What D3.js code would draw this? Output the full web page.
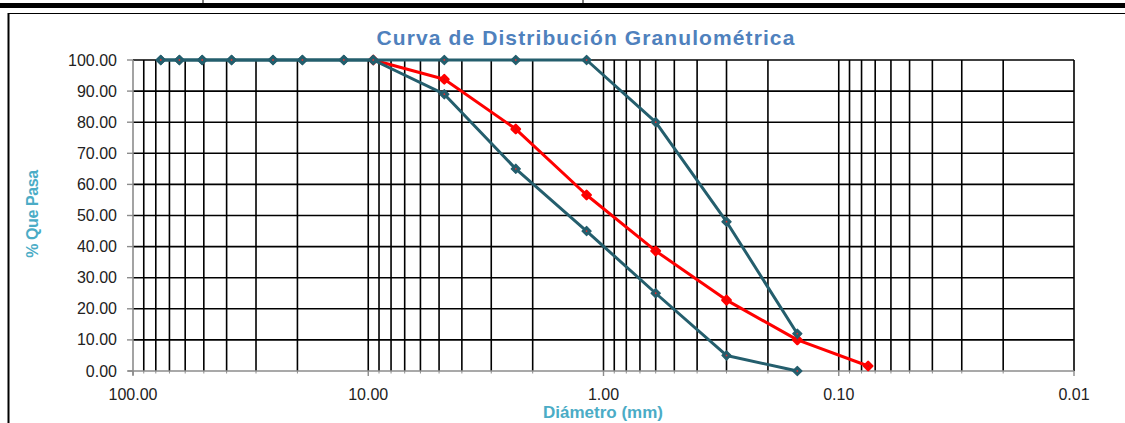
<!DOCTYPE html>
<html><head><meta charset="utf-8">
<script src="https://cdn.jsdelivr.net/npm/d3@7"></script>
<style>body{margin:0;background:#fff}svg{display:block}</style>
</head><body>
<svg id="c" width="1125" height="423"></svg>
<script>
// Data
const sieves = [76.2, 63.5, 50.8, 38.1, 25.4, 19.05, 12.7, 9.525, 4.75, 2.36, 1.18, 0.6, 0.3, 0.15, 0.075];
const upperLimit = [100, 100, 100, 100, 100, 100, 100, 100, 100, 100, 100, 80, 48, 12, null];
const lowerLimit = [100, 100, 100, 100, 100, 100, 100, 100, 89, 65, 45, 25, 5, 0, null];
const sample = [null, null, null, null, null, null, null, 100, 93.8, 77.8, 56.6, 38.6, 22.8, 10, 1.6];
const xTickLabels = [100, 10, 1, 0.1, 0.01];
const yTickLabels = [0, 10, 20, 30, 40, 50, 60, 70, 80, 90, 100];
const title = "Curva de Distribución Granulométrica";
const xTitle = "Diámetro (mm)";
const yTitle = "% Que Pasa";

const svg = d3.select("#c");
const L = 133, R = 1074, T = 60, B = 371;
const x = d3.scaleLog().domain([100, 0.01]).range([L, R]);
const y = d3.scaleLinear().domain([0, 100]).range([B, T]);

// outer frame (spreadsheet borders)
svg.append("rect").attr("x", 0).attr("y", 3).attr("width", 1125).attr("height", 5).attr("fill", "#000");
[203, 583].forEach(px => svg.append("line").attr("x1", px).attr("x2", px).attr("y1", 0).attr("y2", 8).attr("stroke", "#000").attr("stroke-width", 1));
svg.append("line").attr("x1", 8).attr("x2", 1125).attr("y1", 13.5).attr("y2", 13.5).attr("stroke", "#000").attr("stroke-width", 1);
svg.append("line").attr("x1", 8.5).attr("x2", 8.5).attr("y1", 13).attr("y2", 423).attr("stroke", "#000").attr("stroke-width", 2);

// grid
const g = svg.append("g");
const vt = x.ticks().filter(v => v < 99.99);
g.selectAll("line.v").data(vt).join("line").attr("class", "v")
  .attr("x1", d => x(d)).attr("x2", d => x(d)).attr("y1", T).attr("y2", B)
  .attr("stroke", "#000").attr("stroke-width", 1.6);
g.selectAll("line.h").data(yTickLabels.filter(v => v > 0)).join("line").attr("class", "h")
  .attr("x1", L).attr("x2", R).attr("y1", d => y(d)).attr("y2", d => y(d))
  .attr("stroke", "#000").attr("stroke-width", 1.6);

// axes
const ax = svg.append("g");
ax.append("line").attr("x1", L).attr("x2", L).attr("y1", T).attr("y2", B + 4).attr("stroke", "#8c8c8c").attr("stroke-width", 1.6);
ax.append("line").attr("x1", L - 5).attr("x2", R).attr("y1", B).attr("y2", B).attr("stroke", "#8c8c8c").attr("stroke-width", 1.6);
ax.selectAll("line.yt").data(yTickLabels).join("line").attr("class", "yt")
  .attr("x1", L - 6).attr("x2", L).attr("y1", d => y(d)).attr("y2", d => y(d)).attr("stroke", "#8c8c8c").attr("stroke-width", 1.4);
ax.selectAll("line.xt").data(xTickLabels).join("line").attr("class", "xt")
  .attr("x1", d => x(d)).attr("x2", d => x(d)).attr("y1", B).attr("y2", B + 5).attr("stroke", "#8c8c8c").attr("stroke-width", 1.4);
ax.selectAll("line.xm").data(vt.filter(v => !xTickLabels.includes(v))).join("line").attr("class", "xm")
  .attr("x1", d => x(d)).attr("x2", d => x(d)).attr("y1", B).attr("y2", B + 2.5).attr("stroke", "#8c8c8c").attr("stroke-width", 1);

const font = "'Liberation Sans', Arial, sans-serif";
ax.selectAll("text.yl").data(yTickLabels).join("text").attr("class", "yl")
  .attr("x", 117).attr("y", d => y(d) + 5.5).attr("text-anchor", "end")
  .attr("font-family", font).attr("font-size", 16).attr("fill", "#222")
  .text(d => d3.format(".2f")(d));
ax.selectAll("text.xl").data(xTickLabels).join("text").attr("class", "xl")
  .attr("x", d => x(d)).attr("y", 400).attr("text-anchor", "middle")
  .attr("font-family", font).attr("font-size", 16).attr("fill", "#222")
  .text(d => d3.format(".2f")(d));

// titles
svg.append("text").attr("x", 586).attr("y", 45).attr("text-anchor", "middle")
  .attr("font-family", font).attr("font-weight", "bold").attr("font-size", 21).attr("letter-spacing", 1.1)
  .attr("fill", "#4F81BD").text(title);
svg.append("text").attr("x", 603).attr("y", 418).attr("text-anchor", "middle")
  .attr("font-family", font).attr("font-weight", "bold").attr("font-size", 17).attr("letter-spacing", 0)
  .attr("fill", "#4BACC6").text(xTitle);
svg.append("text").attr("transform", "translate(38,214) rotate(-90)").attr("text-anchor", "middle")
  .attr("font-family", font).attr("font-weight", "bold").attr("font-size", 16).attr("letter-spacing", -0.4)
  .attr("fill", "#4BACC6").text(yTitle);

// series
const line = d3.line().defined(d => d[1] != null).x(d => x(d[0])).y(d => y(d[1]));
const teal = "#245E6D";
function series(vals, color, isRed) {
  const pts = sieves.map((s, i) => [s, vals[i]]).filter(d => d[1] != null);
  svg.append("path").datum(pts).attr("d", line).attr("fill", "none")
    .attr("stroke", color).attr("stroke-width", 3).attr("stroke-linejoin", "round");
  const m = svg.append("g");
  const r = isRed ? 4.2 : 4.6;
  m.selectAll("path").data(pts).join("path")
    .attr("transform", d => `translate(${x(d[0])},${y(d[1])})`)
    .attr("d", `M0,${-r}L${r},0L0,${r}L${-r},0Z`)
    .attr("fill", color).attr("stroke", color).attr("stroke-width", isRed ? 2.4 : 1.2).attr("stroke-linejoin", "round");
  m.selectAll("circle").data(pts).join("circle")
    .attr("cx", d => x(d[0])).attr("cy", d => y(d[1])).attr("r", 0.9)
    .attr("fill", isRed ? "#c01818" : "#e03030");
}
series(sample, "#FF0000", true);
series(lowerLimit, teal, false);
series(upperLimit, teal, false);
</script>
</body></html>
